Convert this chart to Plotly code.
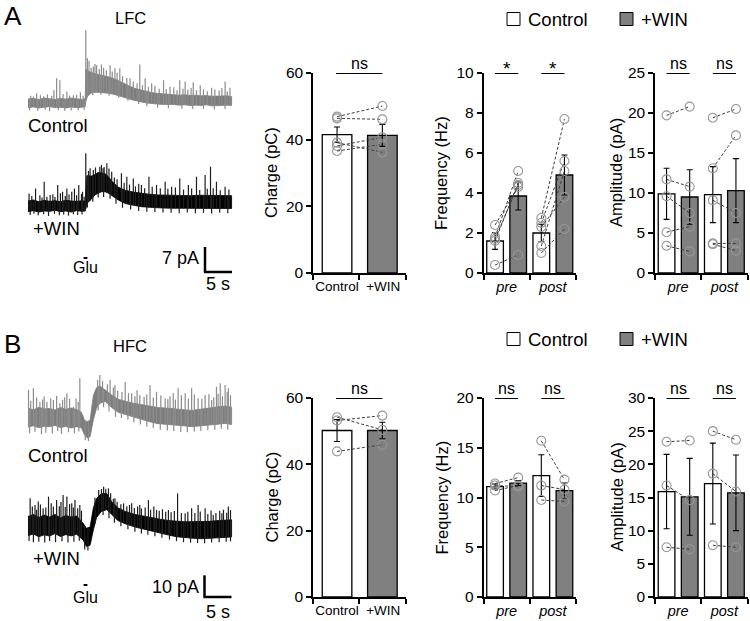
import plotly.graph_objects as go
import numpy as np

# ================= DATA =================
# ---- Panel A (LFC) ----
A_charge_mean = [41.5, 41.3]
A_charge_sem = [2.3, 3.3]
A_charge_ctrl = [46.9, 46.4, 39.1, 38.1, 36.6]
A_charge_win = [50.1, 46.1, 36.2, 40.7, 38.6]

A_freq_mean = [1.6, 3.85, 2.0, 4.9]        # pre ctrl, pre win, post ctrl, post win
A_freq_sem = [0.42, 0.7, 0.44, 1.0]
A_freq_pre_ctrl = [1.8, 2.4, 1.7, 1.6, 0.4]
A_freq_pre_win = [5.1, 4.3, 4.4, 4.5, 0.9]
A_freq_post_ctrl = [2.75, 2.5, 2.3, 1.35, 1.0]
A_freq_post_win = [7.7, 5.6, 3.8, 5.1, 2.2]

A_amp_mean = [9.9, 9.5, 9.8, 10.3]
A_amp_sem = [3.2, 3.4, 3.5, 4.0]
A_amp_pre_ctrl = [19.7, 11.7, 9.6, 5.1, 3.4]
A_amp_pre_win = [20.8, 10.8, 7.5, 5.8, 2.7]
A_amp_post_ctrl = [19.4, 13.1, 9.1, 3.7, 3.6]
A_amp_post_win = [20.5, 17.2, 7.5, 3.7, 2.8]

# ---- Panel B (HFC) ----
B_charge_mean = [50.2, 50.2]
B_charge_sem = [3.3, 2.5]
B_charge_ctrl = [54.2, 53.2, 43.9]
B_charge_win = [50.4, 54.7, 45.9]

B_freq_mean = [11.1, 11.45, 12.2, 10.7]
B_freq_sem = [0.25, 0.25, 2.1, 0.75]
B_freq_pre_ctrl = [11.4, 11.2, 10.7]
B_freq_pre_win = [12.0, 11.1, 11.2]
B_freq_post_ctrl = [15.7, 11.2, 9.75]
B_freq_post_win = [11.8, 10.8, 9.6]

B_amp_mean = [15.9, 15.1, 17.1, 15.7]
B_amp_sem = [5.6, 5.8, 6.1, 5.7]
B_amp_pre_ctrl = [23.4, 16.8, 7.5]
B_amp_pre_win = [23.6, 14.6, 7.2]
B_amp_post_ctrl = [25.0, 18.6, 7.8]
B_amp_post_win = [23.7, 15.9, 7.5]

charge_ticks = ["Control", "+WIN"]
phase_ticks = ["pre", "post"]

# ---- Current traces (time in s, current in pA): envelope + upward / downward spikes ----
tA_ctrl = [0, 1, 2, 3, 4, 5, 6, 7, 8, 9, 10, 10.6, 10.7, 11, 11.5, 12, 13, 14, 15, 16, 17, 18, 19, 20,
           21, 22, 23, 24, 25, 26, 27, 28, 29, 30, 31, 32, 33, 34, 35, 36, 37, 37.7]
loA_ctrl = [-1.3, -1.1, -1.4, -1.2, -1.0, -1.3, -1.2, -1.4, -1.1, -1.3, -1.2, -1.0, 0.5, 1.8, 2.6, 3.0, 3.0,
            2.9, 2.7, 2.4, 2.0, 1.5, 1.0, 0.6, 0.3, 0.0, -0.2, -0.3, -0.4, -0.5, -0.4, -0.6, -0.5, -0.7,
            -0.6, -0.7, -0.5, -0.8, -0.6, -0.7, -0.6, -0.7]
hiA_ctrl = [1.1, 1.3, 1.0, 1.4, 1.2, 1.0, 1.3, 1.1, 1.4, 1.2, 1.0, 1.2, 9.5, 9.0, 8.6, 8.4, 8.0, 7.7,
            7.3, 6.8, 6.0, 5.2, 4.6, 4.0, 3.6, 3.2, 2.9, 2.7, 2.5, 2.4, 2.3, 2.2, 2.3, 2.1, 2.2, 2.0, 2.1,
            1.9, 2.0, 1.9, 2.0, 1.8]
upA_ctrl_t = [0.5, 1.0, 1.6, 2.3, 2.9, 3.6, 4.4, 4.8, 5.3, 5.9, 6.5, 7.2, 7.7, 8.4, 9.0, 9.7, 10.2, 10.7,
              11.0, 11.3, 11.7, 12.1, 12.4, 12.7, 13.2, 13.6, 14.0, 14.5, 15.2, 15.6, 16.1, 16.5, 17.0,
              17.5, 18.3, 18.9, 19.5, 20.2, 20.7, 21.2, 21.7, 22.3, 22.9, 23.5, 24.3, 25.1, 25.6, 26.3,
              27.0, 27.6, 28.1, 28.7, 29.1, 29.6, 30.2, 30.6, 31.2, 31.9, 32.5, 33.2, 34.0, 34.6, 35.4,
              35.9, 36.5, 36.9, 37.4]
upA_ctrl_v = [2.0, 1.8, 2.7, 2.2, 1.9, 2.4, 2.0, 3.6, 6.9, 6.4, 2.5, 3.2, 2.1, 2.2, 2.3, 3.0, 2.0, 20.4,
              12.5, 11.8, 9.8, 10.2, 10.9, 10.6, 9.5, 10.8, 9.9, 9.2, 10.6, 8.8, 9.7, 8.5, 9.7, 7.5, 7.0,
              6.9, 6.0, 5.5, 10.8, 5.0, 6.9, 4.5, 5.5, 4.8, 4.0, 6.4, 3.9, 4.6, 4.4, 3.6, 6.4, 4.0, 6.0,
              3.8, 4.2, 5.8, 3.6, 5.0, 3.8, 3.3, 4.3, 3.8, 3.5, 4.2, 6.0, 3.2, 4.3]
dnA_ctrl_t = [0.3, 1.8, 3.2, 4.0, 5.6, 6.8, 8.0, 9.3, 10.4, 12.0, 13.5, 15.0, 16.8, 18.5, 20.5, 22.0,
              24.0, 26.0, 28.5, 30.5, 32.5, 34.5, 36.5]
dnA_ctrl_v = [-2.0, -2.2, -1.9, -2.3, -2.0, -2.2, -2.1, -2.0, -1.9, 2.2, 2.3, 2.0, 1.5, 0.6, -0.3, -1.0,
              -1.3, -1.5, -1.6, -1.7, -1.6, -1.8, -1.7]

tA_win = [0, 1, 2, 3, 4, 5, 6, 7, 8, 9, 10, 10.6, 10.9, 11.8, 12.4, 13.0, 13.6, 14.3, 14.9, 15.5, 16.7,
          18.0, 19.5, 21.0, 22.5, 24.1, 26, 28, 30, 32, 34, 36.5, 37.7]
loA_win = [-1.6, -1.3, -1.7, -1.4, -1.5, -1.2, -1.6, -1.4, -1.7, -1.3, -1.5, -1.4, 0.7, 2.0, 3.1, 3.6,
           4.0, 4.0, 3.6, 3.1, 1.7, 0.7, 0.2, -0.2, -0.4, -0.5, -0.6, -0.7, -0.6, -0.7, -0.8, -0.7, -0.7]
hiA_win = [1.4, 1.7, 1.2, 1.6, 1.3, 1.5, 1.2, 1.6, 1.4, 1.3, 1.5, 1.3, 8.5, 8.4, 8.8, 9.4, 9.3, 9.0,
           8.2, 7.0, 5.3, 4.4, 3.9, 3.5, 3.3, 3.1, 3.0, 2.9, 2.9, 3.0, 2.9, 2.8, 2.9]
upA_win_t = [0.2, 0.7, 1.4, 2.2, 2.6, 3.0, 3.5, 4.1, 4.6, 5.0, 5.5, 6.0, 6.4, 6.9, 7.2, 7.6, 8.1, 8.6,
             9.0, 9.4, 9.9, 10.1, 10.4, 10.7, 11.2, 11.5, 12.1, 12.5, 13.3, 13.6, 13.9, 14.1, 14.6, 15.0,
             15.5, 16.0, 16.5, 17.3, 17.8, 18.3, 18.8, 19.5, 19.9, 20.5, 21.0, 21.6, 22.4, 23.0, 23.8,
             24.5, 25.4, 25.9, 26.6, 27.3, 28.1, 28.8, 29.7, 30.3, 31.2, 31.8, 32.8, 33.2, 33.8, 34.3,
             34.9, 35.6, 36.5, 37.2]
upA_win_v = [3.5, 2.8, 4.9, 3.0, 2.4, 6.8, 2.6, 3.1, 3.3, 2.5, 5.9, 3.6, 4.0, 2.8, 4.9, 3.2, 4.0, 4.9,
             3.0, 5.9, 3.4, 4.0, 2.6, 14.8, 9.8, 10.6, 10.1, 10.8, 11.0, 11.5, 10.6, 10.9, 12.0, 10.5,
             9.6, 8.0, 7.5, 9.2, 6.5, 8.2, 6.0, 7.7, 5.5, 6.2, 5.9, 5.0, 8.2, 5.4, 5.9, 5.0, 6.8, 4.8,
             5.4, 5.2, 7.7, 4.6, 5.9, 4.9, 8.2, 4.5, 8.7, 4.8, 11.0, 5.0, 6.8, 4.4, 5.4, 4.6]
dnA_win_t = [0.4, 1.1, 1.9, 2.9, 3.8, 4.9, 5.8, 6.6, 7.5, 8.4, 9.2, 10.0, 11.0, 12.0, 13.0, 14.0, 15.2,
             16.3, 17.5, 19.0, 20.5, 22.0, 23.5, 25.0, 26.5, 28.0, 29.5, 31.0, 32.5, 34.0, 35.5, 37.0]
dnA_win_v = [-2.5, -2.2, -2.6, -2.3, -2.8, -2.2, -2.6, -2.4, -2.7, -2.3, -2.5, -2.4, -0.4, 1.2, 2.4, 2.5,
             2.0, 0.6, -0.5, -1.0, -1.4, -1.6, -1.7, -1.8, -1.9, -2.0, -1.8, -2.0, -1.9, -2.1, -1.9, -2.0]

tB_ctrl = [0, 1, 2, 3, 4, 5, 6, 7, 8, 9, 9.9, 10.5, 11.0, 11.5, 12.1, 12.7, 13.3, 14.3, 15.5, 16.7, 18.0,
           19.5, 21.0, 22.5, 24.1, 25.5, 27.2, 28.8, 30.3, 31.8, 33.4, 35.0, 36.5, 37.7]
loB_ctrl = [-4.2, -3.6, -4.5, -3.8, -4.0, -3.4, -4.4, -3.9, -4.6, -4.0, -4.5, -8.0, -9.2, -8.6, -0.9,
            4.6, 6.8, 7.6, 4.8, 2.6, 1.8, 0.5, -0.5, -1.7, -2.6, -3.0, -3.2, -3.6, -4.0, -3.7, -3.2,
            -2.9, -2.5, -3.0]
hiB_ctrl = [4.5, 3.8, 4.9, 4.2, 4.4, 3.7, 4.8, 4.0, 4.6, 3.9, 2.6, -1.2, -1.6, -1.0, 10.4, 14.0, 14.8,
            12.8, 10.6, 8.6, 7.6, 6.8, 6.2, 5.4, 4.8, 4.6, 4.2, 3.9, 3.5, 4.0, 4.7, 5.1, 5.5, 5.0]
upB_ctrl_t = [0.1, 0.5, 1.0, 1.6, 2.2, 2.7, 3.0, 3.5, 4.2, 4.7, 5.3, 5.9, 6.4, 6.8, 7.2, 7.7, 8.4, 8.9,
              9.3, 9.6, 12.9, 13.3, 13.8, 14.7, 15.2, 15.8, 16.1, 16.6, 17.4, 18.0, 18.6, 19.2, 19.8,
              20.2, 20.7, 21.5, 22.0, 22.6, 23.2, 23.8, 24.6, 25.4, 25.9, 26.3, 26.9, 27.3, 27.8, 28.4,
              29.1, 29.7, 30.3, 30.8, 31.5, 32.2, 32.8, 33.5, 34.0, 34.4, 34.9, 35.2, 35.6, 36.0, 36.5,
              36.9, 37.1, 37.5]
upB_ctrl_v = [12.9, 8.0, 13.7, 9.5, 7.5, 8.5, 10.0, 7.5, 9.0, 8.3, 10.2, 6.8, 8.4, 9.6, 11.4, 8.8, 5.2,
              9.0, 7.4, 18.3, 17.5, 19.8, 17.0, 15.6, 17.5, 14.0, 15.2, 12.5, 12.0, 16.7, 11.5, 11.4,
              10.0, 12.8, 10.6, 9.8, 11.0, 15.2, 9.5, 12.1, 10.4, 9.1, 8.8, 10.0, 11.4, 8.5, 13.7, 10.5,
              11.4, 9.0, 13.7, 10.8, 9.1, 8.9, 10.6, 11.0, 8.3, 9.5, 14.4, 11.2, 16.0, 10.0, 15.2, 12.0,
              13.7, 10.5]
dnB_ctrl_t = [0.3, 1.3, 2.5, 3.3, 4.5, 5.5, 6.2, 7.5, 8.6, 9.4, 10.6, 11.2, 13.0, 14.0, 15.0, 16.2,
              17.3, 18.5, 19.6, 20.8, 22.0, 23.2, 24.5, 25.8, 27.0, 28.3, 29.5, 30.8, 32.0, 33.3, 34.6,
              35.8, 37.0]
dnB_ctrl_v = [-7.0, -6.5, -7.5, -6.8, -7.2, -6.0, -7.4, -6.6, -7.0, -6.2, -10.2, -10.6, 3.5, 5.0, 3.0,
              0.5, 0.0, -0.8, -2.0, -3.0, -4.0, -4.6, -5.4, -5.8, -6.0, -6.4, -6.6, -6.2, -6.0, -5.6,
              -5.4, -5.0, -5.4]

tB_win = [0, 1, 2, 3, 4, 5, 6, 7, 8, 9, 10.2, 10.8, 11.5, 12.1, 12.7, 13.6, 14.6, 15.5, 16.7, 18.0, 19.8,
          21.3, 22.9, 24.5, 26.0, 27.5, 29.1, 30.6, 32.2, 33.7, 35.2, 36.5, 37.7]
loB_win = [-4.0, -3.2, -4.5, -3.6, -4.2, -3.0, -4.4, -3.5, -4.1, -3.3, -6.0, -9.0, -8.4, -1.4, 4.4, 7.2,
           8.0, 5.8, 2.9, 1.5, 0.0, -0.8, -1.6, -2.8, -3.7, -4.5, -5.0, -5.2, -5.4, -5.2, -5.0, -4.8, -4.6]
hiB_win = [4.8, 5.8, 4.4, 5.5, 4.6, 5.8, 4.2, 5.3, 4.6, 5.1, 1.8, -0.6, 0.0, 8.8, 13.2, 15.4, 15.4, 11.6,
           8.8, 7.2, 5.8, 5.0, 4.4, 3.6, 3.0, 2.7, 2.4, 2.5, 2.4, 2.6, 3.0, 3.2, 3.3]
upB_win_t = [0.4, 0.8, 1.3, 1.6, 1.9, 2.3, 2.8, 3.3, 3.8, 4.3, 4.7, 5.3, 5.8, 6.1, 6.5, 6.9, 7.2, 7.7,
             8.1, 8.4, 8.7, 9.2, 9.6, 9.9, 12.4, 13.1, 13.6, 14.0, 14.4, 14.9, 15.3, 15.8, 16.1, 16.5,
             17.2, 17.7, 18.3, 18.8, 19.2, 19.7, 20.3, 20.7, 21.0, 21.7, 22.3, 22.7, 23.3, 23.8, 24.3,
             24.9, 25.5, 26.0, 26.5, 27.1, 27.7, 28.4, 29.1, 29.6, 30.3, 30.9, 31.5, 31.9, 32.8, 33.3,
             33.9, 34.3, 34.8, 35.5, 35.9, 36.2, 36.8, 37.1, 37.5]
upB_win_v = [13.2, 9.5, 10.1, 8.0, 11.7, 10.4, 8.6, 9.0, 14.0, 11.0, 9.4, 12.4, 9.6, 11.5, 14.7, 9.2,
             14.0, 10.6, 10.9, 9.0, 12.4, 8.6, 10.1, 7.5, 13.5, 17.0, 17.5, 18.6, 17.6, 17.8, 15.5, 13.0,
             13.2, 11.6, 10.5, 10.9, 9.6, 10.2, 10.9, 8.8, 9.5, 10.1, 8.5, 9.0, 12.4, 8.0, 9.5, 7.8,
             7.5, 8.2, 7.0, 7.8, 6.8, 7.4, 15.5, 6.5, 6.3, 7.0, 8.6, 6.4, 10.1, 7.2, 8.6, 6.0, 7.6,
             5.5, 6.5, 7.5, 6.3, 8.0, 6.6, 9.4, 7.8]
dnB_win_t = [0.2, 1.0, 2.0, 3.1, 4.0, 5.1, 6.3, 7.4, 8.5, 9.5, 10.5, 11.1, 13.9, 15.0, 16.0, 17.2, 18.5,
             19.8, 21.0, 22.2, 23.5, 24.8, 26.2, 27.5, 28.8, 30.1, 31.4, 32.7, 34.0, 35.4, 36.7, 37.5]
dnB_win_v = [-6.5, -7.0, -6.8, -7.2, -6.5, -7.0, -6.6, -7.2, -6.8, -6.3, -10.4, -10.8, 5.5, 4.0, 2.0, 0.3,
             -1.0, -2.2, -3.0, -3.6, -4.3, -5.0, -5.8, -6.5, -7.0, -7.2, -7.4, -7.5, -7.2, -7.0, -6.8, -6.6]

scale_A = (7, 5)     # pA, s
scale_B = (10, 5)
glu_t = (10.3, 11.0)

# ================= FIGURE =================
W, H = 750, 621
FONT = "Arial, Liberation Sans, sans-serif"
GRAY = "rgb(128,128,128)"
TRACE_GRAY = "rgb(125,125,125)"


def fx(px):
    return px / W


def fy(py):
    return 1 - py / H


fig = go.Figure()
layout = dict(width=W, height=H, margin=dict(l=0, r=0, t=0, b=0, pad=0),
              paper_bgcolor="white", plot_bgcolor="rgba(0,0,0,0)",
              showlegend=False, barmode="overlay",
              font=dict(family=FONT, color="black"))
annotations = []
shapes = []


def px_to_t(px):
    return (px - 28) / 5.4


def trace_axes(n, top, bottom, base_px, scale):
    layout[f"xaxis{n}"] = dict(domain=[fx(20), fx(240)], range=[px_to_t(20), px_to_t(240)],
                               visible=False, anchor=f"y{n}", automargin=False)
    layout[f"yaxis{n}"] = dict(domain=[fy(bottom), fy(top)],
                               range=[(base_px - bottom) / scale, (base_px - top) / scale],
                               visible=False, anchor=f"x{n}", automargin=False)


def draw_trace(n, t, lo, hi, ut, uv, dt, dv, color, spike_color):
    xs = list(t) + list(t)[::-1]
    ys = list(hi) + list(lo)[::-1]
    fig.add_trace(go.Scatter(x=xs, y=ys, fill="toself", fillcolor=color, mode="lines",
                             line=dict(color=color, width=0.8), xaxis=f"x{n}", yaxis=f"y{n}",
                             hoverinfo="skip"))
    base_up = np.interp(ut, t, lo)
    base_dn = np.interp(dt, t, hi)
    sx, sy = [], []
    for ti, b, v in list(zip(ut, base_up, uv)) + list(zip(dt, base_dn, dv)):
        sx += [ti, ti, None]
        sy += [b, v, None]
    fig.add_trace(go.Scatter(x=sx, y=sy, mode="lines", line=dict(color=spike_color, width=1.2),
                             xaxis=f"x{n}", yaxis=f"y{n}", hoverinfo="skip"))


trace_axes(1, 20, 115, 103, 3.57)
trace_axes(2, 140, 290, 206, 3.57)
trace_axes(6, 360, 445, 418, 2.17)
trace_axes(7, 470, 610, 527, 2.17)

draw_trace(1, tA_ctrl, loA_ctrl, hiA_ctrl, upA_ctrl_t, upA_ctrl_v, dnA_ctrl_t, dnA_ctrl_v,
           TRACE_GRAY, "rgb(140,140,140)")
draw_trace(2, tA_win, loA_win, hiA_win, upA_win_t, upA_win_v, dnA_win_t, dnA_win_v,
           "black", "rgb(30,30,30)")
draw_trace(6, tB_ctrl, loB_ctrl, hiB_ctrl, upB_ctrl_t, upB_ctrl_v, dnB_ctrl_t, dnB_ctrl_v,
           TRACE_GRAY, "rgb(140,140,140)")
draw_trace(7, tB_win, loB_win, hiB_win, upB_win_t, upB_win_v, dnB_win_t, dnB_win_v,
           "black", "rgb(30,30,30)")


def scale_bar(n, t0, y0, scale):
    amp, dur = scale
    shapes.append(dict(type="line", xref=f"x{n}", yref=f"y{n}", x0=t0, x1=t0, y0=y0, y1=y0 + amp,
                       line=dict(color="black", width=2.5)))
    shapes.append(dict(type="line", xref=f"x{n}", yref=f"y{n}", x0=t0 - 0.2, x1=t0 + dur, y0=y0, y1=y0,
                       line=dict(color="black", width=2.5)))


scale_bar(2, px_to_t(205), (206 - 272) / 3.57, scale_A)
scale_bar(7, px_to_t(204.5), (527 - 597) / 2.17, scale_B)

for n, gy in [(2, 258), (7, 585)]:
    shapes.append(dict(type="line", xref=f"x{n}", yref="paper", x0=glu_t[0], x1=glu_t[1],
                       y0=fy(gy), y1=fy(gy), line=dict(color="black", width=2)))


def text(x, y, s, size, xanchor="center", yanchor="middle", **kw):
    annotations.append(dict(x=fx(x), y=fy(y), xref="paper", yref="paper", text=s, showarrow=False,
                            font=dict(size=size, family=FONT, color="black"),
                            xanchor=xanchor, yanchor=yanchor, borderpad=0, **kw))


for dy, (tag, title, sc) in zip([0, 328], [("A", "LFC", "7 pA"), ("B", "HFC", "10 pA")]):
    text(3, 16 + dy, tag, 26, xanchor="left")
    text(130, 18 + dy, title, 16.5)
    text(27, 125 + dy + (2 if dy else 0), "Control", 18.5, xanchor="left")
    text(32, 228 + dy + (2 if dy else 0), "+WIN", 18.5, xanchor="left")
    text(85, 268 + dy + (1 if dy else 0), "Glu", 16)
    text(200, 258 + dy + (1 if dy else 0), sc, 18, xanchor="right")
    text(218, 285 + dy - 1, "5 s", 18)

for ly in [19, 339]:
    shapes.append(dict(type="rect", xref="paper", yref="paper", x0=fx(507), x1=fx(520),
                       y0=fy(ly + 6.5), y1=fy(ly - 6.5), fillcolor="white",
                       line=dict(color="black", width=1)))
    text(527, ly, "Control", 18.5, xanchor="left")
    shapes.append(dict(type="rect", xref="paper", yref="paper", x0=fx(620), x1=fx(633),
                       y0=fy(ly + 6.5), y1=fy(ly - 6.5), fillcolor=GRAY,
                       line=dict(color="black", width=1)))
    text(640, ly, "+WIN", 18.5, xanchor="left")


def bar_axes(n, x0, top, bottom, ymax, dtick, ticktext, tickvals, italic, title, title_x):
    labels = [f"<i>{t}</i>" for t in ticktext] if italic else ticktext
    layout[f"xaxis{n}"] = dict(domain=[fx(x0), fx(x0 + 92.5)], range=[0, 2], anchor=f"y{n}",
                               showline=True, linecolor="black", linewidth=1.5,
                               tickvals=tickvals, ticktext=labels, ticks="",
                               tickfont=dict(size=14.5 if italic else 13.5, family=FONT),
                               minor=dict(tickvals=[0, 1, 2], ticks="outside", ticklen=5,
                                          tickwidth=1.5, tickcolor="black"),
                               showgrid=False, zeroline=False, fixedrange=True, automargin=False)
    layout[f"yaxis{n}"] = dict(domain=[fy(bottom), fy(top)], range=[0, ymax], anchor=f"x{n}",
                               showline=True, linecolor="black", linewidth=1.5,
                               tickmode="linear", tick0=0, dtick=dtick, ticks="outside",
                               ticklen=5, tickwidth=1.5, tickcolor="black",
                               tickfont=dict(size=15.5, family=FONT),
                               showgrid=False, zeroline=False, fixedrange=True, automargin=False)
    text(title_x, (top + bottom) / 2, title, 16.5, textangle=-90)


def bars(n, xs_ctrl, xs_win, means, sems, width):
    mc, mw = means[0::2], means[1::2]
    sc, sw = sems[0::2], sems[1::2]
    for xs, m, s, col in [(xs_ctrl, mc, sc, "white"), (xs_win, mw, sw, GRAY)]:
        fig.add_trace(go.Bar(x=xs, y=m, width=width,
                             marker=dict(color=col, line=dict(color="black", width=1.3)),
                             error_y=dict(type="data", array=s, color="black", thickness=1.1, width=3),
                             xaxis=f"x{n}", yaxis=f"y{n}", hoverinfo="skip"))


def pairs(n, xc, xw, ctrl, win):
    for c, w in zip(ctrl, win):
        fig.add_trace(go.Scatter(x=[xc, xw], y=[c, w], mode="lines+markers",
                                 line=dict(color="rgb(60,60,60)", width=1, dash="3px,2px"),
                                 marker=dict(symbol="circle-open", size=9, color="rgb(150,150,150)",
                                             line=dict(width=1.1)),
                                 xaxis=f"x{n}", yaxis=f"y{n}", hoverinfo="skip", cliponaxis=False))


def sig(n, x0, x1, y, s):
    shapes.append(dict(type="line", xref=f"x{n}", yref=f"y{n}", x0=x0, x1=x1, y0=y, y1=y,
                       line=dict(color="black", width=2)))
    annotations.append(dict(x=(x0 + x1) / 2, y=y, xref=f"x{n}", yref=f"y{n}", text=s, showarrow=False,
                            font=dict(size=19 if s == "*" else 16, family=FONT, color="black"),
                            xanchor="center", yanchor="bottom", borderpad=0,
                            yshift=(-7 if s == "*" else 0)))


for (row, top, bottom, cm, cs, cc, cw, fmean, fsem, fpc, fpw, fqc, fqw, fmax, fdt,
     amean, asem, apc, apw, aqc, aqw, amax, sym) in [
    ("A", 73, 273, A_charge_mean, A_charge_sem, A_charge_ctrl, A_charge_win,
     A_freq_mean, A_freq_sem, A_freq_pre_ctrl, A_freq_pre_win, A_freq_post_ctrl, A_freq_post_win, 10, 2,
     A_amp_mean, A_amp_sem, A_amp_pre_ctrl, A_amp_pre_win, A_amp_post_ctrl, A_amp_post_win, 25, "*"),
    ("B", 398, 597, B_charge_mean, B_charge_sem, B_charge_ctrl, B_charge_win,
     B_freq_mean, B_freq_sem, B_freq_pre_ctrl, B_freq_pre_win, B_freq_post_ctrl, B_freq_post_win, 20, 5,
     B_amp_mean, B_amp_sem, B_amp_pre_ctrl, B_amp_pre_win, B_amp_post_ctrl, B_amp_post_win, 30, "ns")]:
    base = 3 if row == "A" else 8
    nc, nf, na = base, base + 1, base + 2
    bar_axes(nc, 313, top, bottom, 60, 20, charge_ticks, [0.52, 1.52], False, "Charge (pC)", 271)
    bars(nc, [0.52], [1.5], cm, cs, 0.64)
    pairs(nc, 0.52, 1.5, cc, cw)
    sig(nc, 0.5, 1.5, 60, "ns")
    bar_axes(nf, 483.5, top, bottom, fmax, fdt, phase_ticks, [0.5, 1.5], True, "Frequency (Hz)", 441)
    bars(nf, [0.25, 1.25], [0.75, 1.75], fmean, fsem, 0.36)
    pairs(nf, 0.25, 0.75, fpc, fpw)
    pairs(nf, 1.25, 1.75, fqc, fqw)
    sig(nf, 0.25, 0.75, fmax, sym)
    sig(nf, 1.25, 1.75, fmax, sym)
    bar_axes(na, 655, top, bottom, amax, 5, phase_ticks, [0.5, 1.5], True, "Amplitude (pA)", 616)
    bars(na, [0.25, 1.25], [0.75, 1.75], amean, asem, 0.36)
    pairs(na, 0.25, 0.75, apc, apw)
    pairs(na, 1.25, 1.75, aqc, aqw)
    sig(na, 0.25, 0.75, amax, "ns")
    sig(na, 1.25, 1.75, amax, "ns")

layout["annotations"] = annotations
layout["shapes"] = shapes
fig.update_layout(**layout)
fig.write_html("out.html", config={"displayModeBar": False},
               post_script="document.body.style.margin='0px';")
